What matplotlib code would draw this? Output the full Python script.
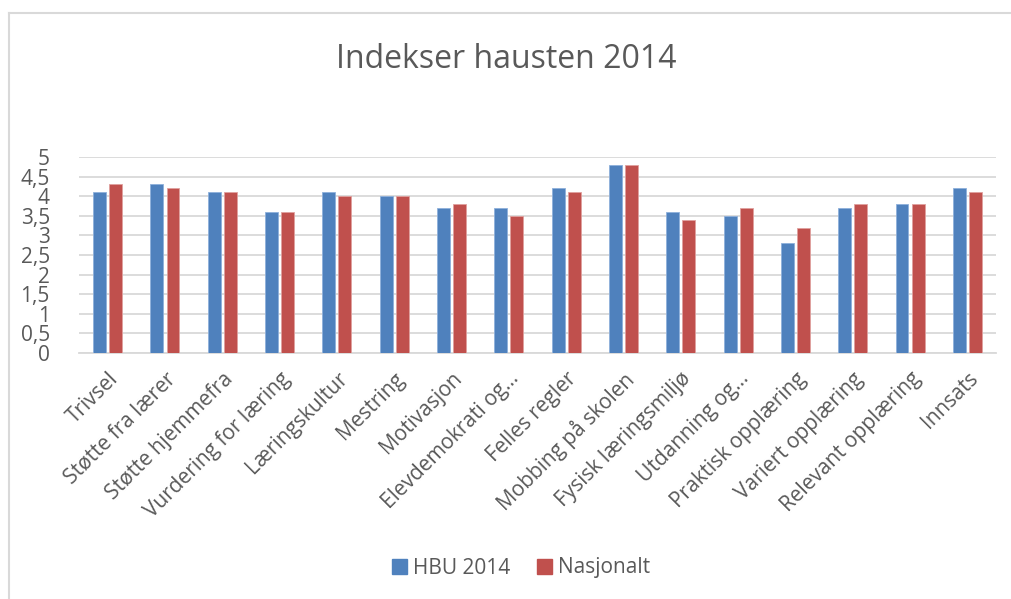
import matplotlib
matplotlib.use("Agg")
import matplotlib.pyplot as plt
import numpy as np
from matplotlib.lines import Line2D
from matplotlib.patches import Patch

categories = ["Trivsel", "Støtte fra lærer", "Støtte hjemmefra", "Vurdering for læring",
              "Læringskultur", "Mestring", "Motivasjon", "Elevdemokrati og…",
              "Felles regler", "Mobbing på skolen", "Fysisk læringsmiljø", "Utdanning og…",
              "Praktisk opplæring", "Variert opplæring", "Relevant opplæring", "Innsats"]
hbu_2014 = [4.1, 4.3, 4.1, 3.6, 4.1, 4.0, 3.7, 3.7, 4.2, 4.8, 3.6, 3.5, 2.8, 3.7, 3.8, 4.2]
nasjonalt = [4.3, 4.2, 4.1, 3.6, 4.0, 4.0, 3.8, 3.5, 4.1, 4.8, 3.4, 3.7, 3.2, 3.8, 3.8, 4.1]
yticks = [0, 0.5, 1, 1.5, 2, 2.5, 3, 3.5, 4, 4.5, 5]
ytick_labels = ["0", "0,5", "1", "1,5", "2", "2,5", "3", "3,5", "4", "4,5", "5"]
series_names = ["HBU 2014", "Nasjonalt"]

plt.rcParams['font.family'] = ['Open Sans', 'DejaVu Sans']
txt = '#595959'
blue = '#4F81BD'
red = '#C0504D'

W, H = 1011, 599
fig = plt.figure(figsize=(W / 100, H / 100), dpi=100)
fig.patch.set_facecolor('white')

# chart border (top and left visible)
fig.add_artist(Line2D([9 / W, 9 / W], [0, 1 - 13 / H], transform=fig.transFigure,
                      color='#D9D9D9', lw=1.5))
fig.add_artist(Line2D([9 / W, 1], [1 - 13 / H, 1 - 13 / H], transform=fig.transFigure,
                      color='#D9D9D9', lw=1.5))

ax = fig.add_axes([79 / W, 1 - 353 / H, (996 - 79) / W, (353 - 157) / H])
x = np.arange(len(categories))
bw = 0.225
off = 0.14
ax.bar(x - off, hbu_2014, bw, color=blue, edgecolor='#8EB0DB', linewidth=0.6, zorder=3)
ax.bar(x + off, nasjonalt, bw, color=red, edgecolor='#E0A09E', linewidth=0.6, zorder=3)

ax.set_xlim(-0.5, len(categories) - 0.5)
ax.set_ylim(0, 5)
ax.set_yticks(yticks)
ax.set_yticklabels(ytick_labels, fontsize=15, color=txt)
ax.yaxis.grid(True, color='#D9D9D9', lw=1.3, zorder=0)
ax.tick_params(axis='y', length=0, pad=21)
ax.set_xticks(x)
ax.set_xticklabels(categories, rotation=45, ha='right', rotation_mode='anchor',
                   fontsize=15, color=txt)
ax.tick_params(axis='x', length=0, pad=11)
for s in ['top', 'right', 'left']:
    ax.spines[s].set_visible(False)
ax.spines['bottom'].set_color('#D9D9D9')
ax.spines['bottom'].set_linewidth(1.3)
ax.set_facecolor('none')

fig.text(506 / W, 1 - 60 / H, "Indekser hausten 2014", ha='center', va='center',
         fontsize=23, color=txt)

handles = [Patch(color=blue), Patch(color=red)]
fig.legend(handles, series_names, loc='center', bbox_to_anchor=(521 / W, 1 - 568 / H),
           ncol=2, frameon=False, fontsize=15, handlelength=0.7, handleheight=0.7,
           handletextpad=0.3, columnspacing=1.3, labelcolor=txt)

fig.savefig("out.png", dpi=100, facecolor='white')
